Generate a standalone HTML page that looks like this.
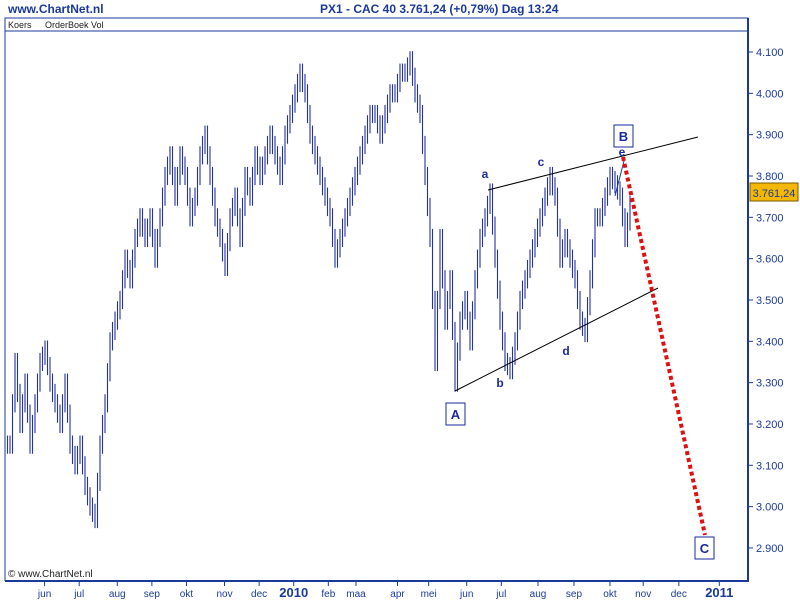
<!DOCTYPE html>
<html><head><meta charset="utf-8"><style>
body{margin:0;background:#fff;width:800px;height:600px;overflow:hidden;font-family:"Liberation Sans",sans-serif}
svg text{font-family:"Liberation Sans",sans-serif}
</style></head><body>
<svg id="c" width="800" height="600">
<text x="8" y="13" font-size="12" font-weight="bold" fill="#1a3a9a">www.ChartNet.nl</text>
<text x="320" y="13" font-size="12" font-weight="bold" fill="#1a3a9a">PX1 - CAC 40    3.761,24 (+0,79%)    Dag  13:24</text>
<rect x="5" y="18" width="743" height="13" fill="#fff" stroke="#1a3a9a"/>
<text x="8" y="28" font-size="9" fill="#222">Koers</text>
<text x="45" y="28" font-size="9" fill="#222">OrderBoek Vol</text>
<line x1="5" y1="31" x2="5" y2="581" stroke="#1a3a9a"/>
<line x1="5" y1="581" x2="749" y2="581" stroke="#1a3a9a" stroke-width="2"/>
<line x1="748" y1="18" x2="748" y2="582" stroke="#1a3a9a" stroke-width="2"/>
<text x="8" y="577" font-size="10" fill="#222">© www.ChartNet.nl</text>
<g id="g"></g>
</svg>
<script>
const closes=[3150,3350,3200,3300,3150,3250,3350,3380,3300,3250,3200,3300,3150,3100,3150,3050,3000,2970,3150,3250,3400,3450,3500,3600,3550,3650,3700,3650,3700,3600,3700,3800,3850,3750,3850,3800,3700,3750,3850,3900,3800,3700,3650,3580,3700,3750,3650,3800,3750,3850,3800,3850,3900,3850,3800,3900,3950,4000,4050,4000,3900,3850,3800,3750,3700,3600,3650,3700,3750,3800,3850,3900,3950,3950,3900,3950,4000,4000,4050,4050,4080,4000,3950,3800,3650,3350,3650,3450,3550,3300,3450,3500,3400,3550,3650,3700,3760,3600,3450,3350,3330,3400,3500,3550,3600,3650,3700,3750,3800,3750,3600,3650,3600,3550,3450,3420,3550,3700,3700,3750,3800,3780,3750,3650,3730];
const yTicks=[4100,4000,3900,3800,3700,3600,3500,3400,3300,3200,3100,3000,2900];
const months=["jun","jul","aug","sep","okt","nov","dec","2010","feb","maa","apr","mei","jun","jul","aug","sep","okt","nov","dec","2011"];
const monthPos=[1.0,2.0,3.1,4.1,5.1,6.2,7.2,8.2,9.2,10.0,11.2,12.1,13.2,14.2,15.26,16.3,17.34,18.3,19.33,20.5];
const lastPrice=3761.24;
const ns="http://www.w3.org/2000/svg",g=document.getElementById('g');
const y=p=>52+(4100-p)*0.4133;
const x=i=>10+i*5;
const xm=m=>10+m*34.6;
function el(t,a,txt){const e=document.createElementNS(ns,t);for(const k in a)e.setAttribute(k,a[k]);if(txt!=null)e.textContent=txt;g.appendChild(e);return e;}
yTicks.forEach(p=>{
 const l=el('line',{x1:748,x2:753,y1:y(p),y2:y(p),stroke:'#1a3a9a'});
 
 
 const t=el('text',{x:756,y:y(p)+4,'font-size':11,fill:'#1a3a9a'},(p/1000).toFixed(3));
 
 
});
months.forEach((m,i)=>{
 const xx=xm(monthPos[i]);
 const l=el('line',{x1:xx,x2:xx,y1:582,y2:586,stroke:'#1a3a9a'});
 
 
 const b=/^\d/.test(m);
 const t=el('text',{x:xx,y:597,'font-size':b?13:10,'font-weight':b?'bold':'normal','text-anchor':'middle',fill:'#1a3a9a'},m);
 
 
});
closes.forEach((c,i)=>{
 const prev=i?closes[i-1]:c;
 const mid=(c+prev)/2;
 const segs=[[prev,mid],[mid,c]];
 segs.forEach((s,k)=>{
  const xx=x(i)-2.5+k*2.5;
  const hi=Math.max(s[0],s[1])+22,lo=Math.min(s[0],s[1])-22;
  const b=el('line',{x1:xx,x2:xx,y1:y(hi),y2:y(lo),stroke:'#2232a8','stroke-width':1.1});
  
  
 });
});
const add=(t,a,txt,n)=>{const e=el(t,a,txt);return e;};
add('line',{x1:488,y1:190,x2:698,y2:137,stroke:'#000'},null,'upper-trendline');
add('line',{x1:455,y1:391,x2:658,y2:288,stroke:'#000'},null,'lower-trendline');
add('line',{x1:615,y1:196,x2:625,y2:157,stroke:'#1a3a9a'},null,'projection-line');
add('line',{x1:623,y1:157,x2:705,y2:535,stroke:'#e01010','stroke-width':4,'stroke-dasharray':'4 3'},null,'red-target-line');
[['a',485,178],['c',541,166],['e',622,156],['b',500,387],['d',566,355]].forEach(([s,xx,yy])=>add('text',{x:xx,y:yy,'font-size':12,'font-weight':'bold',fill:'#1a2aa0','text-anchor':'middle'},s,'wave-label-'+s));
[['B',614,125],['A',446,403],['C',695,537]].forEach(([s,xx,yy])=>{
 add('rect',{x:xx,y:yy,width:19,height:22,fill:'#fff',stroke:'#1a2aa0'},null,'wave-box-'+s);
 add('text',{x:xx+9.5,y:yy+16,'font-size':13,'font-weight':'bold',fill:'#1a2aa0','text-anchor':'middle'},s,'wave-label-'+s);
});
add('rect',{x:750,y:y(lastPrice)-9,width:48,height:18,fill:'#f5b800',stroke:'#7a5a00'},null,'last-price-box');
add('text',{x:774,y:y(lastPrice)+5,'font-size':11,fill:'#1a3a9a','text-anchor':'middle'},'3.761,24','last-price-label');
</script>
</body></html>
